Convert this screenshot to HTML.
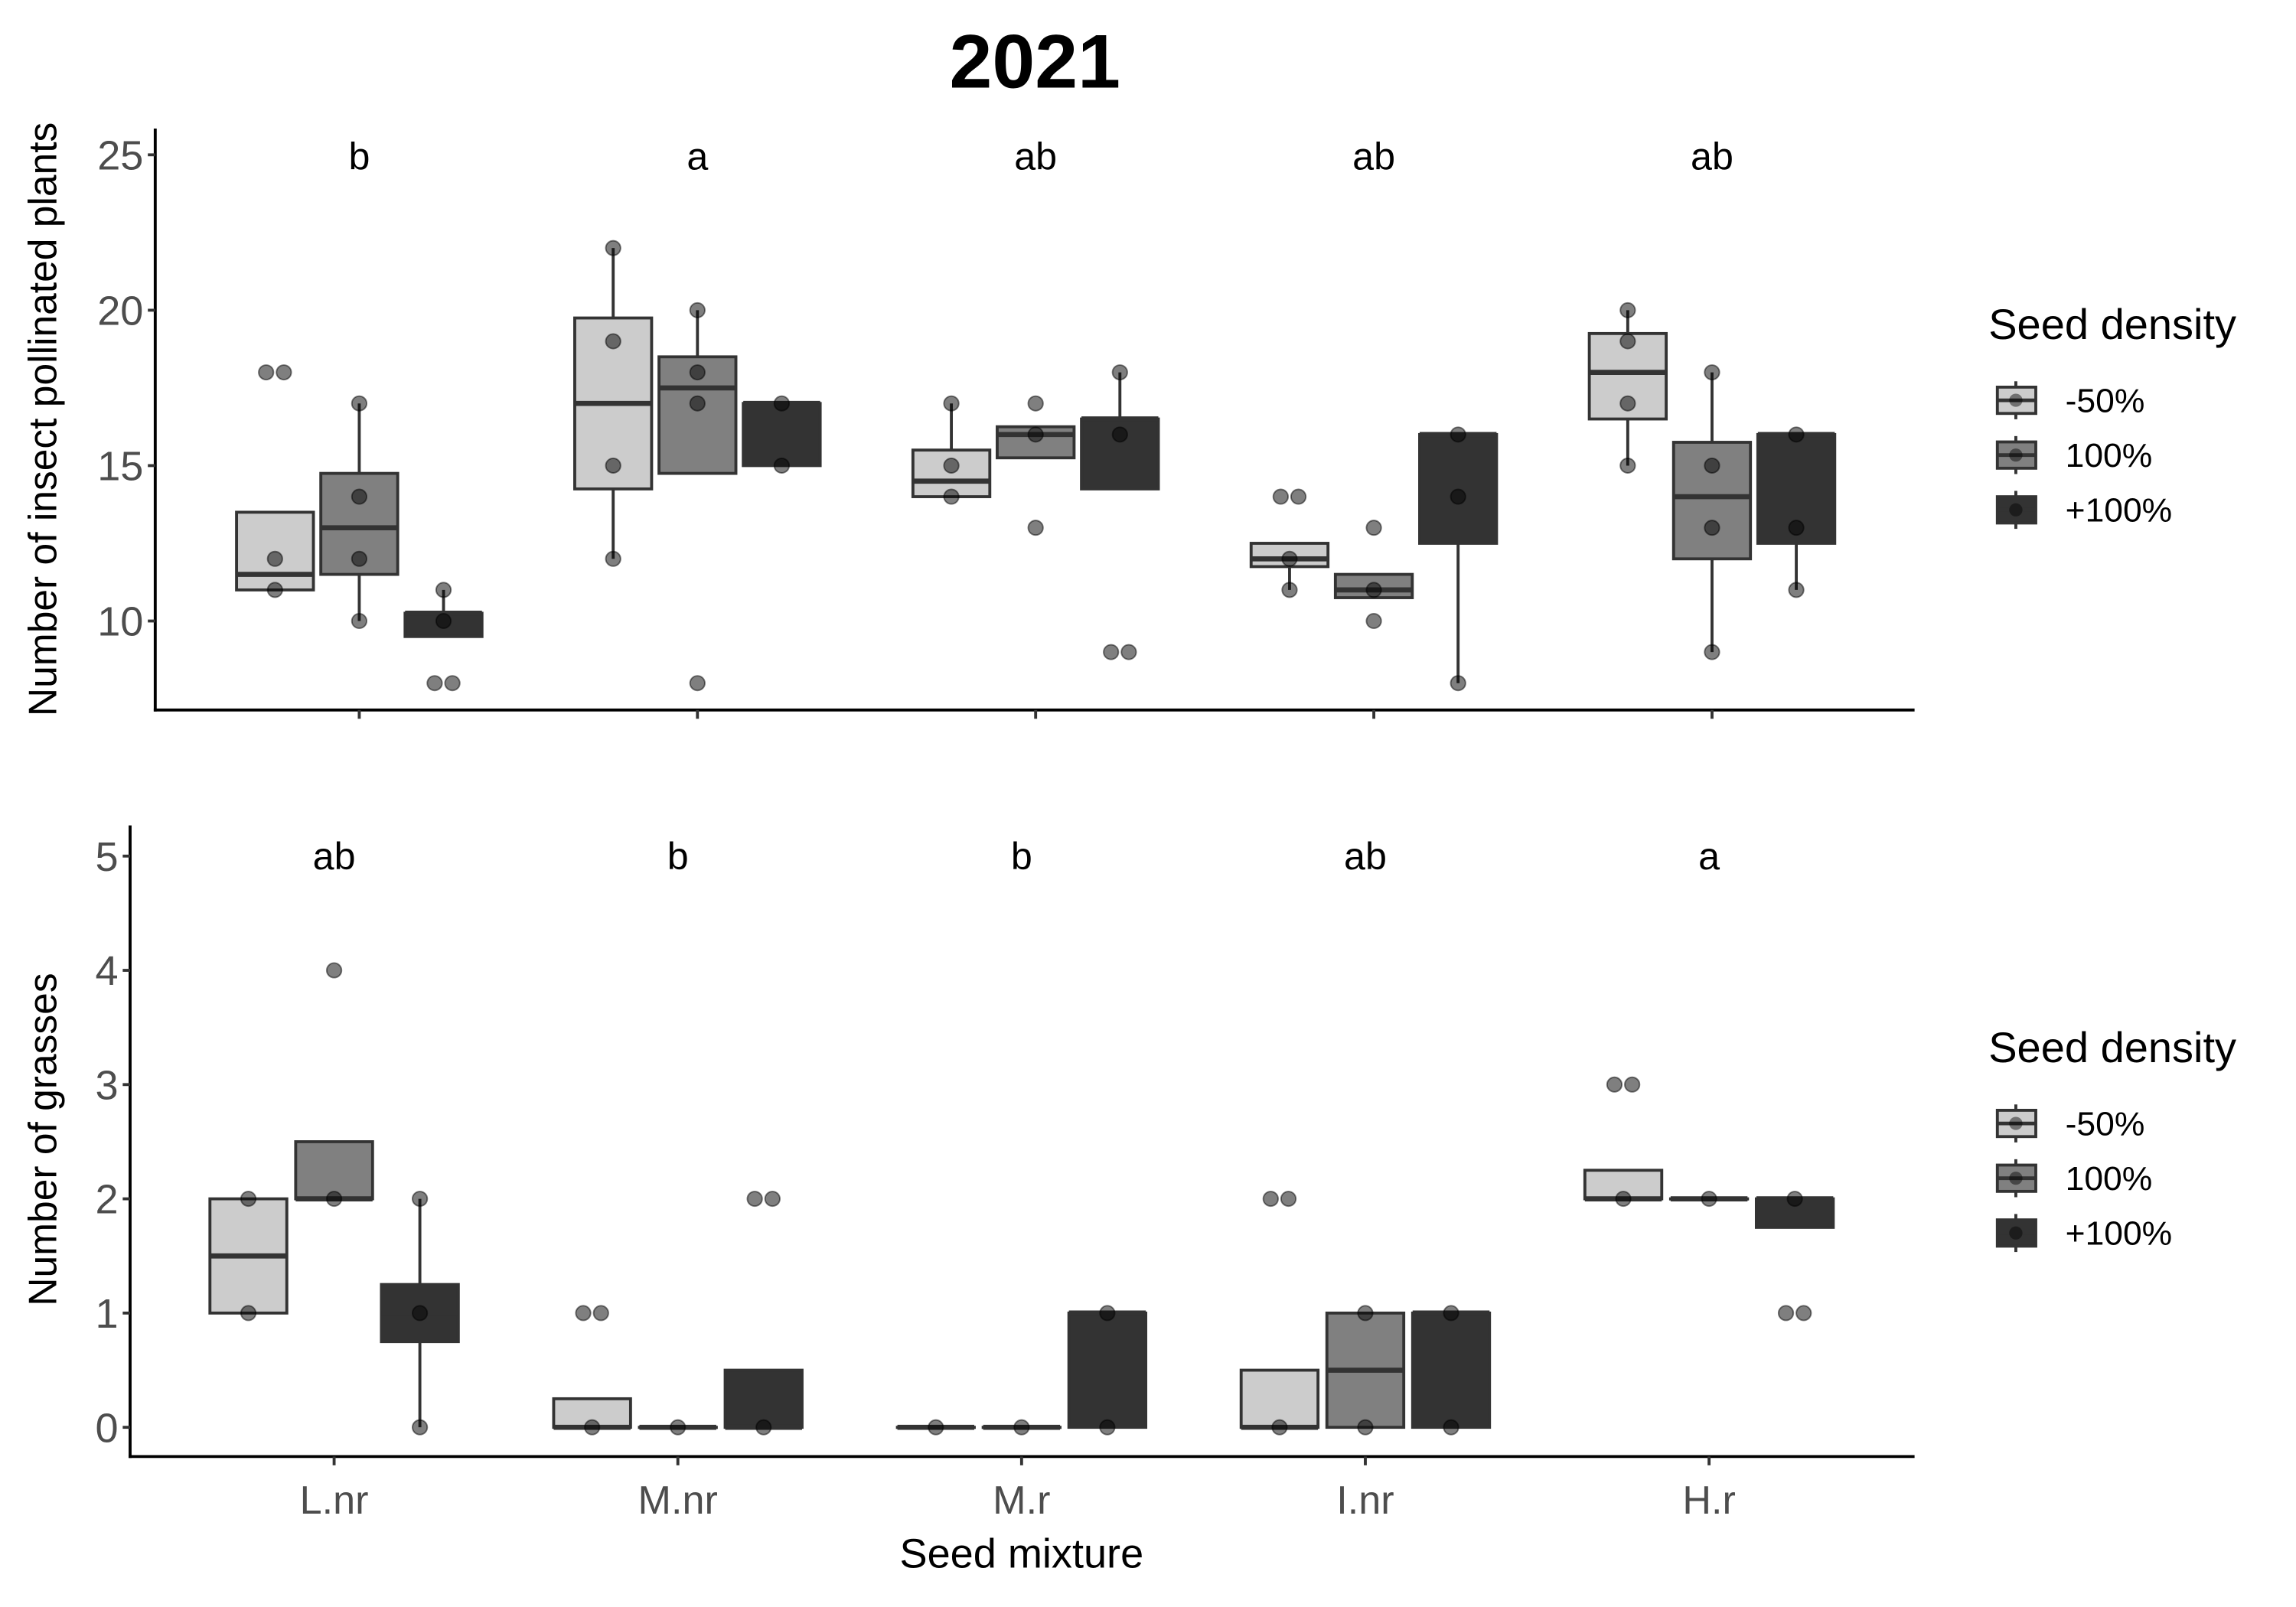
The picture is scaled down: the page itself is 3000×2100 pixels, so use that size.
<!DOCTYPE html>
<html><head><meta charset="utf-8"><style>
html,body{margin:0;padding:0;background:#fff}
svg{display:block}
text{font-family:"Liberation Sans",sans-serif}
</style></head><body>
<svg id="chart" width="3000" height="2100" viewBox="0 0 1553 1100" preserveAspectRatio="none" xmlns="http://www.w3.org/2000/svg">
<text x="700" y="60" font-size="52" font-weight="bold" text-anchor="middle">2021</text>
<g id="top"></g>
<g id="bot"></g>
</svg>
<script>
const categories = ["L.nr","M.nr","M.r","I.nr","H.r"];
const densities = ["-50%","100%","+100%"];
const fills = ["#cccccc","#808080","#333333"];
// top panel: [q1, median, q3, whiskerLow, whiskerHigh] per category per density
const topStats = [
 [[11,11.5,13.5,11,13.5],[11.5,13,14.75,10,17],[9.5,10.25,10.25,9.5,11]],
 [[14.25,17,19.75,12,22],[14.75,17.5,18.5,14.75,20],[15,17,17,15,17]],
 [[14,14.5,15.5,14,17],[15.25,16,16.25,15.25,16.25],[14.25,16.5,16.5,14.25,18]],
 [[11.75,12,12.5,11,12.5],[10.75,11,11.5,10.75,11.5],[12.5,16,16,8,16]],
 [[16.5,18,19.25,15,20],[12,14,15.75,9,18],[12.5,16,16,11,16]]
];
const topPoints = [
 [[18,18,12,11],[17,14,12,10],[11,10,8,8]],
 [[22,19,15,12],[20,18,17,8],[17,15]],
 [[17,15,14],[17,16,13],[18,16,9,9]],
 [[14,14,12,11],[13,11,10],[16,14,8]],
 [[20,19,17,15],[18,15,13,9],[16,13,11]]
];
const topLetters = ["b","a","ab","ab","ab"];
const topTicks = [10,15,20,25];
const botStats = [
 [[1,1.5,2,1,2],[2,2,2.5,2,2.5],[0.75,1,1.25,0,2]],
 [[0,0,0.25,0,0.25],[0,0,0,0,0],[0,0,0.5,0,0.5]],
 [[0,0,0,0,0],[0,0,0,0,0],[0,1,1,0,1]],
 [[0,0,0.5,0,0.5],[0,0.5,1,0,1],[0,1,1,0,1]],
 [[2,2,2.25,2,2.25],[2,2,2,2,2],[1.75,2,2,1.75,2]]
];
const botPoints = [
 [[2,1],[4,2],[2,1,0]],
 [[1,1,0],[0],[2,2,0]],
 [[0],[0],[1,0]],
 [[2,2,0],[1,0],[1,0]],
 [[3,3,2],[2],[2,1,1]]
];
const botLetters = ["ab","b","b","ab","a"];
const botTicks = [0,1,2,3,4,5];
const NS="http://www.w3.org/2000/svg";
function mk(parent,tag,attrs){const e=document.createElementNS(NS,tag);for(const k in attrs)e.setAttribute(k,attrs[k]);parent.appendChild(e);return e;}

function panel(g,cfg){
 const {x0,x1,yTop,yBot,vmin,vmax,stats,points,letters,ticks,cx0,cdx,off,bw,letterY,ytitle,ytx,ytcy,showLabels,legendY,pname}=cfg;
 const Y=v=>yBot-(v-vmin)/(vmax-vmin)*(yBot-yTop);
 const X=i=>cx0+i*cdx;
 let a=mk(g,'line',{x1:x0,y1:yTop,x2:x0,y2:yBot+1,stroke:'#000','stroke-width':2});
 
 a=mk(g,'line',{x1:x0-1,y1:yBot,x2:x1,y2:yBot,stroke:'#000','stroke-width':2});
 
 ticks.forEach(t=>{
  const tl=mk(g,'line',{x1:x0-5,x2:x0,y1:Y(t),y2:Y(t),stroke:'#333','stroke-width':2});
  
  const tx=mk(g,'text',{x:x0-8,y:Y(t)+10,'font-size':28,fill:'#4d4d4d','text-anchor':'end'});
  tx.textContent=t;
  
 });
 categories.forEach((c,i)=>{
  const tl=mk(g,'line',{x1:X(i),x2:X(i),y1:yBot,y2:yBot+6,stroke:'#333','stroke-width':2});
  
  if(showLabels){const tx=mk(g,'text',{x:X(i),y:yBot+39,'font-size':27,fill:'#4d4d4d','text-anchor':'middle'});tx.textContent=c;
   }
  const lt=mk(g,'text',{x:X(i),y:letterY,'font-size':26,'text-anchor':'middle'});lt.textContent=letters[i];
  
  densities.forEach((d,j)=>{
   const s=stats[i][j],cx=X(i)+(j-1)*off;
   const bg=mk(g,'g',{});
   
   if(s[4]>s[2])mk(bg,'line',{x1:cx,x2:cx,y1:Y(s[2]),y2:Y(s[4]),stroke:'#333','stroke-width':2});
   if(s[3]<s[0])mk(bg,'line',{x1:cx,x2:cx,y1:Y(s[0]),y2:Y(s[3]),stroke:'#333','stroke-width':2});
   const h=Math.max(Y(s[0])-Y(s[2]),0.1);
   mk(bg,'rect',{x:cx-bw/2,y:Y(s[2]),width:bw,height:h,fill:fills[j],stroke:'#333','stroke-width':2});
   mk(bg,'line',{x1:cx-bw/2,x2:cx+bw/2,y1:Y(s[1]),y2:Y(s[1]),stroke:'#333','stroke-width':3.5});
   const pts=points[i][j];const seen={};
   pts.forEach(v=>{
    const n=pts.filter(q=>q===v).length;const k=seen[v]||0;seen[v]=k+1;
    const dx=n>1?(k-(n-1)/2)*12:0;
    const p=mk(bg,'circle',{cx:cx+dx,cy:Y(v),r:5,fill:'#000','fill-opacity':0.5,stroke:'#000','stroke-opacity':0.5,'stroke-width':1});
    
   });
  });
 });
 const yt=mk(g,'text',{x:ytx,y:ytcy,'font-size':27,'text-anchor':'middle',transform:`rotate(-90 ${ytx} ${ytcy})`});
 yt.textContent=ytitle;
 const lg=mk(g,'g',{});
 const tt=mk(lg,'text',{x:1345,y:legendY,'font-size':29});tt.textContent='Seed density';
 
 densities.forEach((d,j)=>{
  const ky=legendY+42+j*37.5;
  const e=mk(lg,'g',{});
  mk(e,'line',{x1:1363.5,x2:1363.5,y1:ky-13,y2:ky+13,stroke:'#333','stroke-width':2});
  mk(e,'rect',{x:1351,y:ky-9,width:26,height:18,fill:fills[j],stroke:'#333','stroke-width':2});
  mk(e,'line',{x1:1351,x2:1377,y1:ky,y2:ky,stroke:'#333','stroke-width':2.5});
  mk(e,'circle',{cx:1363.5,cy:ky,r:4.5,fill:'#000','fill-opacity':0.45});
  const lt=mk(e,'text',{x:1397,y:ky+8,'font-size':23});lt.textContent=d;
 });
}
panel(document.getElementById('top'),{x0:105,x1:1295,yTop:88,yBot:486,vmin:10-61/21.3,vmax:25+18/21.3,
 stats:topStats,points:topPoints,letters:topLetters,ticks:topTicks,cx0:243,cdx:228.75,off:57,bw:52,letterY:116,
 ytitle:'Number of insect pollinated plants',ytx:38,ytcy:287,showLabels:false,legendY:232,pname:'top'});
panel(document.getElementById('bot'),{x0:88,x1:1295,yTop:565,yBot:997,vmin:-20/78.2,vmax:5+21/78.2,
 stats:botStats,points:botPoints,letters:botLetters,ticks:botTicks,cx0:226,cdx:232.5,off:58,bw:52,letterY:595,
 ytitle:'Number of grasses',ytx:38,ytcy:780,showLabels:true,legendY:727,pname:'bottom'});
const xt=mk(document.getElementById('bot'),'text',{x:691,y:1073,'font-size':28,'text-anchor':'middle'});
xt.textContent='Seed mixture';


</script>
</body></html>
